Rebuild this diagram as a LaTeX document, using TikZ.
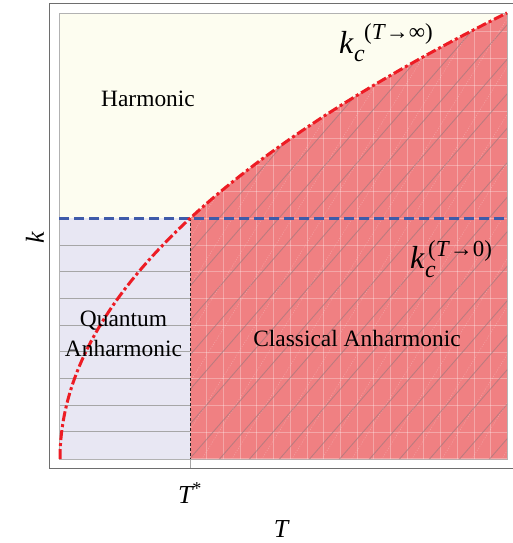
\documentclass[tikz,border=0pt]{standalone}
\usepackage{fontspec}
\setmainfont{Liberation Serif}
\definecolor{harmfill}{RGB}{253,253,240}
\definecolor{quantfill}{RGB}{232,231,243}
\definecolor{classfill}{RGB}{240,128,130}
\definecolor{curvered}{RGB}{237,28,36}
\definecolor{lineblue}{RGB}{63,91,170}
\definecolor{hatchgray}{RGB}{160,120,125}
\definecolor{framegray}{RGB}{110,110,110}
\tikzset{
  lbl/.style={inner sep=0pt, font=\fontsize{23.5}{28}\selectfont},
  mathlbl/.style={inner sep=0pt, font=\fontsize{32}{36}\selectfont\itshape},
  sublbl/.style={inner sep=0pt, font=\fontsize{24}{28}\selectfont\itshape},
  suplbl/.style={inner sep=0pt, font=\fontsize{23}{26}\selectfont},
  axislbl/.style={inner sep=0pt, font=\fontsize{26}{30}\selectfont\itshape},
  kcurve/.style={curvered, line width=3bp, dash pattern=on 10bp off 3bp on 3bp off 3bp},
  kline/.style={lineblue, line width=2.5bp, dash pattern=on 10bp off 5bp},
  tstarline/.style={black!85, line width=0.9bp, dash pattern=on 3bp off 2bp},
}
\begin{document}
\begin{tikzpicture}[x=1bp,y=-1bp]
\useasboundingbox (0,0) rectangle (513,543);
% outer frame (cut at right)
\draw[framegray, line width=1.2bp] (520,3.5) -- (49.5,3.5) -- (49.5,468.5) -- (520,468.5);
% regions
\fill[harmfill] (59,13) rectangle (507,459);
\fill[quantfill] (59,218.4) rectangle (190,459);
\foreach \k in {0,...,7}{
  \draw[gray!70, line width=0.9bp] (59,{245+26.7*\k}) -- (190,{245+26.7*\k});
}
\draw[gray!60, line width=0.8bp] (59,13) rectangle (507,459);
\begin{scope}
  \clip (190,459) -- (190,218.4)
    -- plot[domain=11.402:21.142, samples=120, variable=\t] ({60+\t*\t},{459-21.1*\t})
    -- (507,459) -- cycle;
  \fill[classfill] (59,0) rectangle (507,470);
  \foreach \i in {0,...,20}{
    \draw[white, opacity=0.3, line width=0.7bp] ({190+16.7*\i},0) -- ({190+16.7*\i},470);
  }
  \foreach \k in {-8,...,9}{
    \draw[white, opacity=0.3, line width=0.7bp] (180,{218.4+26.7*\k}) -- (510,{218.4+26.7*\k});
  }
  \foreach \a in {-420,-390,...,510}{
    \draw[hatchgray, opacity=0.65, line width=0.9bp] (\a,470) -- ({\a+470/1.15},0);
  }
  \foreach \a in {-405,-375,...,510}{
    \draw[white, opacity=0.25, line width=0.6bp, dash pattern=on 1bp off 1.5bp] (\a,470) -- ({\a+470/1.6},0);
  }
\end{scope}
% T* dashed line and tick
\coordinate (tsTop) at (190,218.4);
\coordinate (tsBot) at (190,459);
\coordinate (tsTick) at (190,468);
\draw[tstarline] (tsTop) -- (tsBot);
\draw[gray!70, line width=0.8bp] (tsBot) -- (tsTick);
% blue k_c(T->0) line
\coordinate (bL) at (59,218.4);
\coordinate (bR) at (507,218.4);
\draw[kline] (bL) -- (bR);
% red k_c(T->inf) curve
\draw[kcurve] plot[domain=0:21.142, samples=160, variable=\t] ({60+\t*\t},{459-21.1*\t});
% region labels
\node[lbl, anchor=base] (harm) at (148,106.7) {Harmonic};
\node[lbl, anchor=base] (quant1) at (123.5,326.7) {Quantum};
\node[lbl, anchor=base] (quant2) at (123.5,356) {Anharmonic};
\node[lbl, anchor=base] (class) at (357,346.7) {Classical Anharmonic};
% k_c^(T->inf)
\node[mathlbl, anchor=base west] (kinf) at (339,53.3) {k};
\node[sublbl, anchor=base west] (kinfc) at (354,62) {c};
\node[suplbl, anchor=base west] (kinfs) at (364,40) {(\textit{T}→∞)};
% k_c^(T->0)
\node[mathlbl, anchor=base west] (kzero) at (410,268) {k};
\node[sublbl, anchor=base west] (kzeroc) at (425,277) {c};
\node[suplbl, anchor=base west] (kzeros) at (428,256) {(\textit{T}→0)};
% axis labels
\node[axislbl, anchor=base] (tstar) at (190,503) {T\textsuperscript{\upshape *}};
\node[axislbl, anchor=base] (taxis) at (281,537) {T};
\node[axislbl, rotate=90] (kaxis) at (35,238) {k};
\end{tikzpicture}
\end{document}
